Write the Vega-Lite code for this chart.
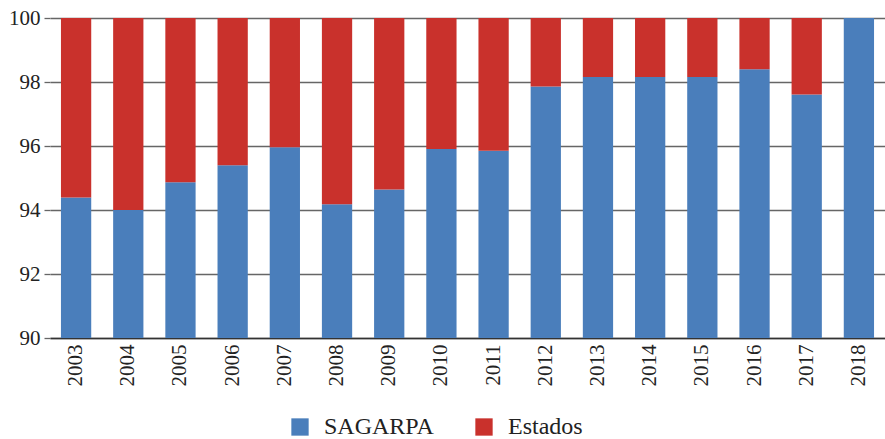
{
  "$schema": "https://vega.github.io/schema/vega-lite/v6.json",
  "width": 835,
  "height": 320,
  "autosize": {"type": "none"},
  "padding": {"left": 50, "right": 0, "top": 18, "bottom": 101},
  "background": "white",
  "data": {
    "values": [
      {"year": "2003", "serie": "SAGARPA", "v": 94.39}, {"year": "2003", "serie": "Estados", "v": 5.61},
      {"year": "2004", "serie": "SAGARPA", "v": 94.0}, {"year": "2004", "serie": "Estados", "v": 6.0},
      {"year": "2005", "serie": "SAGARPA", "v": 94.87}, {"year": "2005", "serie": "Estados", "v": 5.13},
      {"year": "2006", "serie": "SAGARPA", "v": 95.4}, {"year": "2006", "serie": "Estados", "v": 4.6},
      {"year": "2007", "serie": "SAGARPA", "v": 95.96}, {"year": "2007", "serie": "Estados", "v": 4.04},
      {"year": "2008", "serie": "SAGARPA", "v": 94.18}, {"year": "2008", "serie": "Estados", "v": 5.82},
      {"year": "2009", "serie": "SAGARPA", "v": 94.64}, {"year": "2009", "serie": "Estados", "v": 5.36},
      {"year": "2010", "serie": "SAGARPA", "v": 95.91}, {"year": "2010", "serie": "Estados", "v": 4.09},
      {"year": "2011", "serie": "SAGARPA", "v": 95.85}, {"year": "2011", "serie": "Estados", "v": 4.15},
      {"year": "2012", "serie": "SAGARPA", "v": 97.86}, {"year": "2012", "serie": "Estados", "v": 2.14},
      {"year": "2013", "serie": "SAGARPA", "v": 98.16}, {"year": "2013", "serie": "Estados", "v": 1.84},
      {"year": "2014", "serie": "SAGARPA", "v": 98.16}, {"year": "2014", "serie": "Estados", "v": 1.84},
      {"year": "2015", "serie": "SAGARPA", "v": 98.16}, {"year": "2015", "serie": "Estados", "v": 1.84},
      {"year": "2016", "serie": "SAGARPA", "v": 98.4}, {"year": "2016", "serie": "Estados", "v": 1.6},
      {"year": "2017", "serie": "SAGARPA", "v": 97.61}, {"year": "2017", "serie": "Estados", "v": 2.39},
      {"year": "2018", "serie": "SAGARPA", "v": 100.0}, {"year": "2018", "serie": "Estados", "v": 0.0}
    ]
  },
  "mark": {"type": "bar", "clip": true},
  "encoding": {
    "x": {
      "field": "year", "type": "nominal", "title": null,
      "scale": {"paddingInner": 0.42, "paddingOuter": 0.21},
      "axis": {"labelAngle": -90, "labelFont": "Liberation Serif", "labelFontSize": 21, "labelColor": "#222",
               "ticks": false, "domainColor": "#333", "domainWidth": 1.5, "labelPadding": 6, "labelBaseline": "middle"}
    },
    "y": {
      "field": "v", "type": "quantitative", "title": null, "stack": "zero",
      "scale": {"domain": [90, 100], "nice": false, "zero": false},
      "axis": {"values": [90, 92, 94, 96, 98, 100], "labelFont": "Liberation Serif", "labelFontSize": 21, "labelColor": "#222",
               "domain": false, "grid": true, "gridColor": "#666", "gridWidth": 1.3, "tickColor": "#666", "tickSize": 6, "tickWidth": 1.3, "labelPadding": 4}
    },
    "color": {
      "field": "serie", "type": "nominal", "title": null,
      "scale": {"domain": ["SAGARPA", "Estados"], "range": ["#4A7EBB", "#C9312C"]},
      "legend": {"orient": "none", "legendX": 238, "legendY": 397, "direction": "horizontal", "symbolType": "square", "symbolSize": 300,
                 "symbolStrokeWidth": 0, "labelFont": "Liberation Serif", "labelFontSize": 24, "labelColor": "#222",
                 "columnPadding": 38, "labelOffset": 12}
    },
    "order": {"field": "serie", "sort": "descending"}
  },
  "config": {"view": {"stroke": null}}
}
